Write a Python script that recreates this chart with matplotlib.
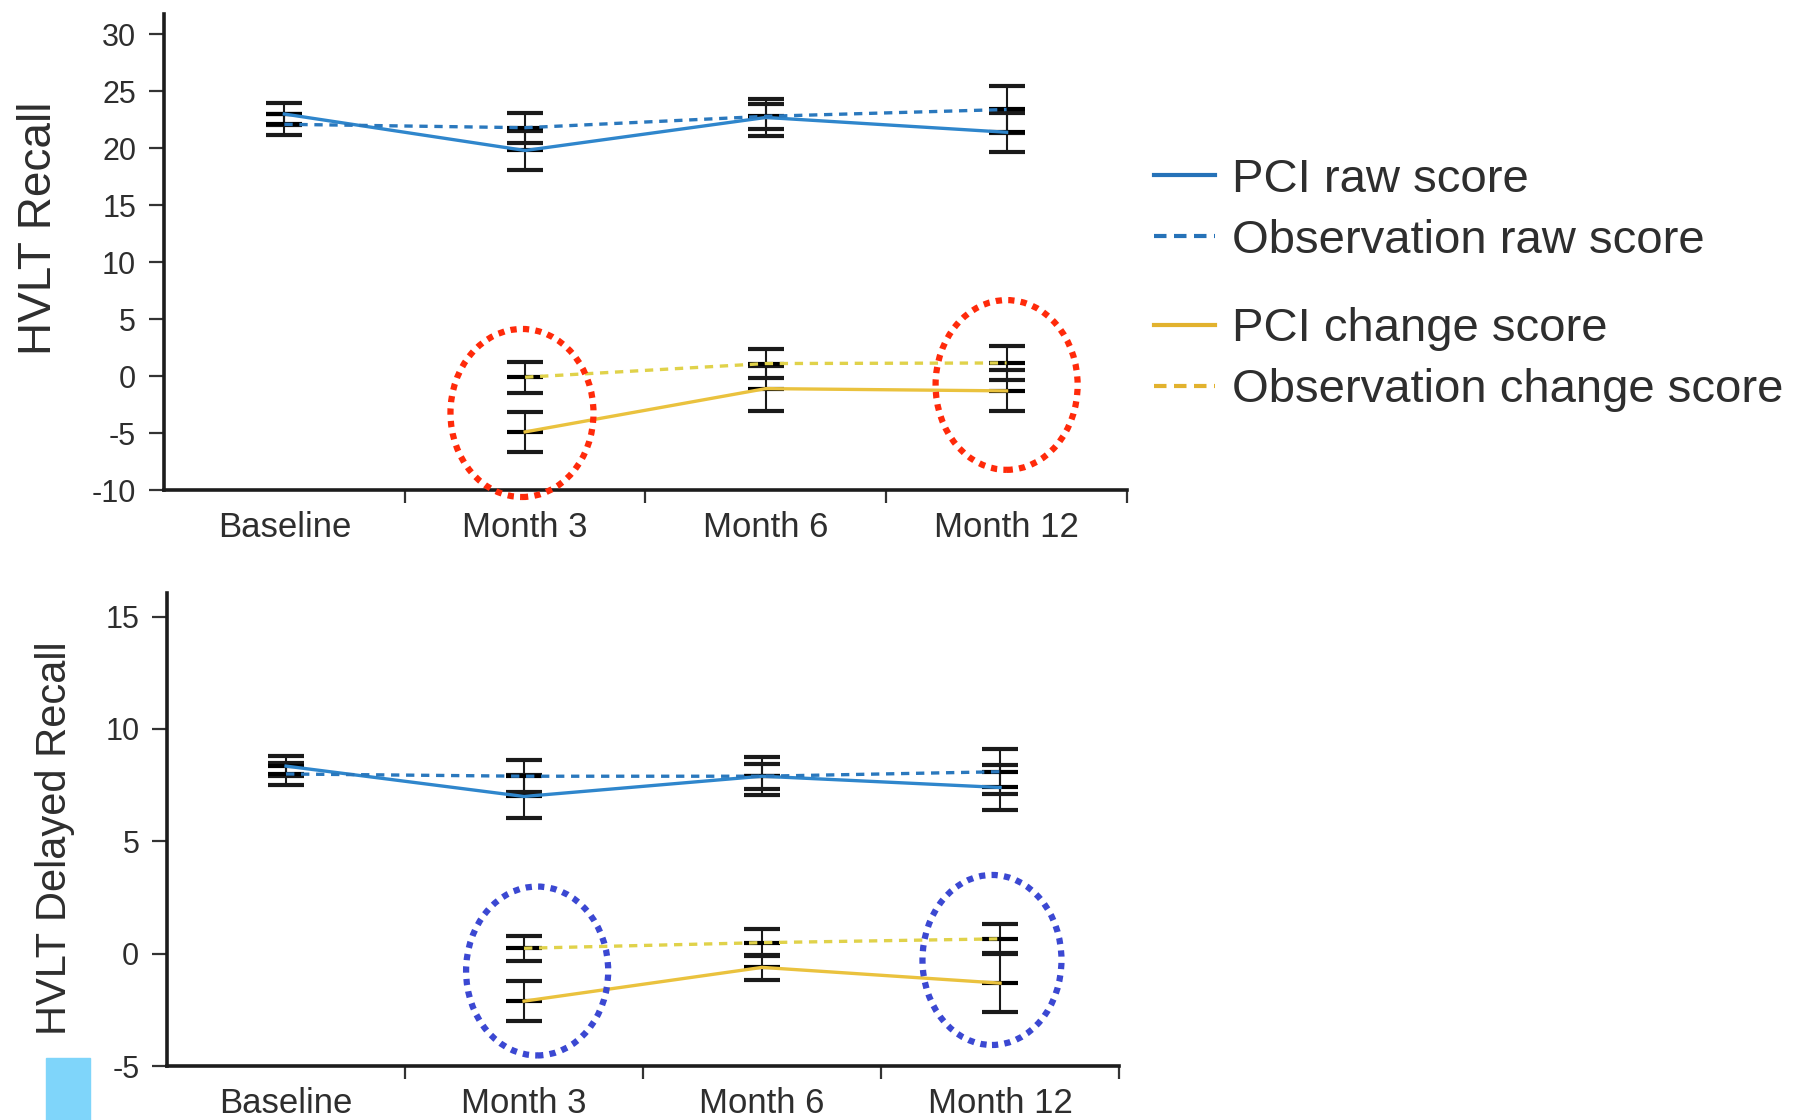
import numpy as np
import matplotlib
matplotlib.use('Agg')
import matplotlib.pyplot as plt
from matplotlib.lines import Line2D
from matplotlib.patches import Ellipse, Rectangle

plt.rcParams['font.family'] = ['Liberation Sans', 'DejaVu Sans']
plt.rcParams['axes.unicode_minus'] = False

# ---- DATA ----
visits = ['Baseline', 'Month 3', 'Month 6', 'Month 12']

# HVLT Recall
recall_pci_raw = [23.0, 19.8, 22.7, 21.4]
recall_pci_raw_err = [1.0, 1.7, 1.6, 1.7]
recall_obs_raw = [22.1, 21.8, 22.8, 23.4]
recall_obs_raw_err = [0.9, 1.3, 1.1, 2.1]
recall_pci_chg = [np.nan, -4.9, -1.1, -1.3]
recall_pci_chg_err = [np.nan, 1.75, 2.0, 1.8]
recall_obs_chg = [np.nan, -0.1, 1.1, 1.15]
recall_obs_chg_err = [np.nan, 1.35, 1.3, 1.5]

# HVLT Delayed Recall
delayed_pci_raw = [8.35, 7.0, 7.9, 7.4]
delayed_pci_raw_err = [0.45, 0.95, 0.85, 1.0]
delayed_obs_raw = [8.0, 7.9, 7.9, 8.1]
delayed_obs_raw_err = [0.5, 0.7, 0.55, 1.0]
delayed_pci_chg = [np.nan, -2.1, -0.6, -1.3]
delayed_pci_chg_err = [np.nan, 0.9, 0.55, 1.3]
delayed_obs_chg = [np.nan, 0.25, 0.5, 0.67]
delayed_obs_chg_err = [np.nan, 0.55, 0.6, 0.65]

# ---- STYLE ----
BLUE = '#2f86cc'
BLUE_DASH = '#2a78bd'
GOLD = '#eac23e'
GOLD_DASH = '#e0d24a'
TXT = '#2e2e2e'
DOTTED = (0, (1, 1))

fig = plt.figure(figsize=(18, 11.2), dpi=100)
ax1 = fig.add_axes([0.0911, 0.5625, 0.535, 0.4252])
ax2 = fig.add_axes([0.0928, 0.0479, 0.5289, 0.4227])


def draw_panel(ax, series, ylim, yticks):
    x = np.arange(len(visits)) + 0.5
    for mean, err, color, ls in series:
        ax.errorbar(x, mean, yerr=err, fmt='_', color='black', ecolor='#1a1a1a',
                    elinewidth=1.5, capsize=13, capthick=2.6, markersize=26,
                    mew=3, zorder=2)
        ax.plot(x, mean, color=color, lw=2.4, ls=ls, zorder=3)
    ax.set_xlim(0, 4)
    ax.set_ylim(*ylim)
    ax.set_yticks(yticks)
    ax.set_xticks(x)
    ax.set_xticklabels(visits)
    ax.set_xticks([1, 2, 3, 4], minor=True)
    ax.tick_params(axis='x', which='major', length=0, pad=15, labelsize=25,
                   labelcolor=TXT)
    ax.tick_params(axis='x', which='minor', length=9, width=1.6, color='#333')
    ax.tick_params(axis='y', length=11, width=1.6, color='#333', pad=9,
                   labelsize=22, labelcolor=TXT)
    for side in ['top', 'right']:
        ax.spines[side].set_visible(False)
    for side in ['left', 'bottom']:
        ax.spines[side].set_linewidth(2.6)
        ax.spines[side].set_color('#1c1c1c')


draw_panel(ax1, [
    (recall_pci_raw, recall_pci_raw_err, BLUE, '-'),
    (recall_obs_raw, recall_obs_raw_err, BLUE_DASH, (0, (2.5, 2))),
    (recall_pci_chg, recall_pci_chg_err, GOLD, '-'),
    (recall_obs_chg, recall_obs_chg_err, GOLD_DASH, (0, (2.5, 2))),
], (-10, 31.8), range(-10, 31, 5))

draw_panel(ax2, [
    (delayed_pci_raw, delayed_pci_raw_err, BLUE, '-'),
    (delayed_obs_raw, delayed_obs_raw_err, BLUE_DASH, (0, (2.5, 2))),
    (delayed_pci_chg, delayed_pci_chg_err, GOLD, '-'),
    (delayed_obs_chg, delayed_obs_chg_err, GOLD_DASH, (0, (2.5, 2))),
], (-5, 16.05), range(-5, 16, 5))

# dotted rings around the change-score clusters
for ax, color, rings in [
    (ax1, '#ff2a0a', [(1.487, -3.24, 0.594, 14.75), (3.50, -0.78, 0.59, 14.9)]),
    (ax2, '#3b48d2', [(1.555, -0.76, 0.597, 7.51), (3.466, -0.27, 0.584, 7.56)]),
]:
    for cx, cy, w, h in rings:
        ax.add_patch(Ellipse((cx, cy), w, h, fill=False, ec=color, lw=4.5,
                             ls=DOTTED, clip_on=False, zorder=5))

fig.text(0.0217, 0.796, 'HVLT Recall', rotation=90, ha='center', va='center',
         fontsize=33, color=TXT)
fig.text(0.0306, 0.252, 'HVLT Delayed Recall', rotation=90, ha='center',
         va='center', fontsize=30, color=TXT)

# legends
raw_handles = [Line2D([], [], color='#2672b8', lw=3),
               Line2D([], [], color='#2672b8', lw=3, ls=(0, (3, 1.8)))]
chg_handles = [Line2D([], [], color='#e2b22e', lw=3),
               Line2D([], [], color='#e2b22e', lw=3, ls=(0, (3, 1.8)))]
leg_kw = dict(loc='upper left', frameon=False, fontsize=34, handlelength=1.3,
              handletextpad=0.35, labelspacing=0.36, borderpad=0,
              borderaxespad=0, labelcolor=TXT)
fig.legend(raw_handles, ['PCI raw score', 'Observation raw score'],
           bbox_to_anchor=(0.641, 0.859), **leg_kw)
fig.legend(chg_handles, ['PCI change score', 'Observation change score'],
           bbox_to_anchor=(0.641, 0.7256), **leg_kw)

fig.patches.append(Rectangle((46 / 1800, 0), 44 / 1800, 62 / 1120,
                             transform=fig.transFigure, color='#7fd5fa',
                             zorder=10))

fig.savefig('out.png', dpi=100)
